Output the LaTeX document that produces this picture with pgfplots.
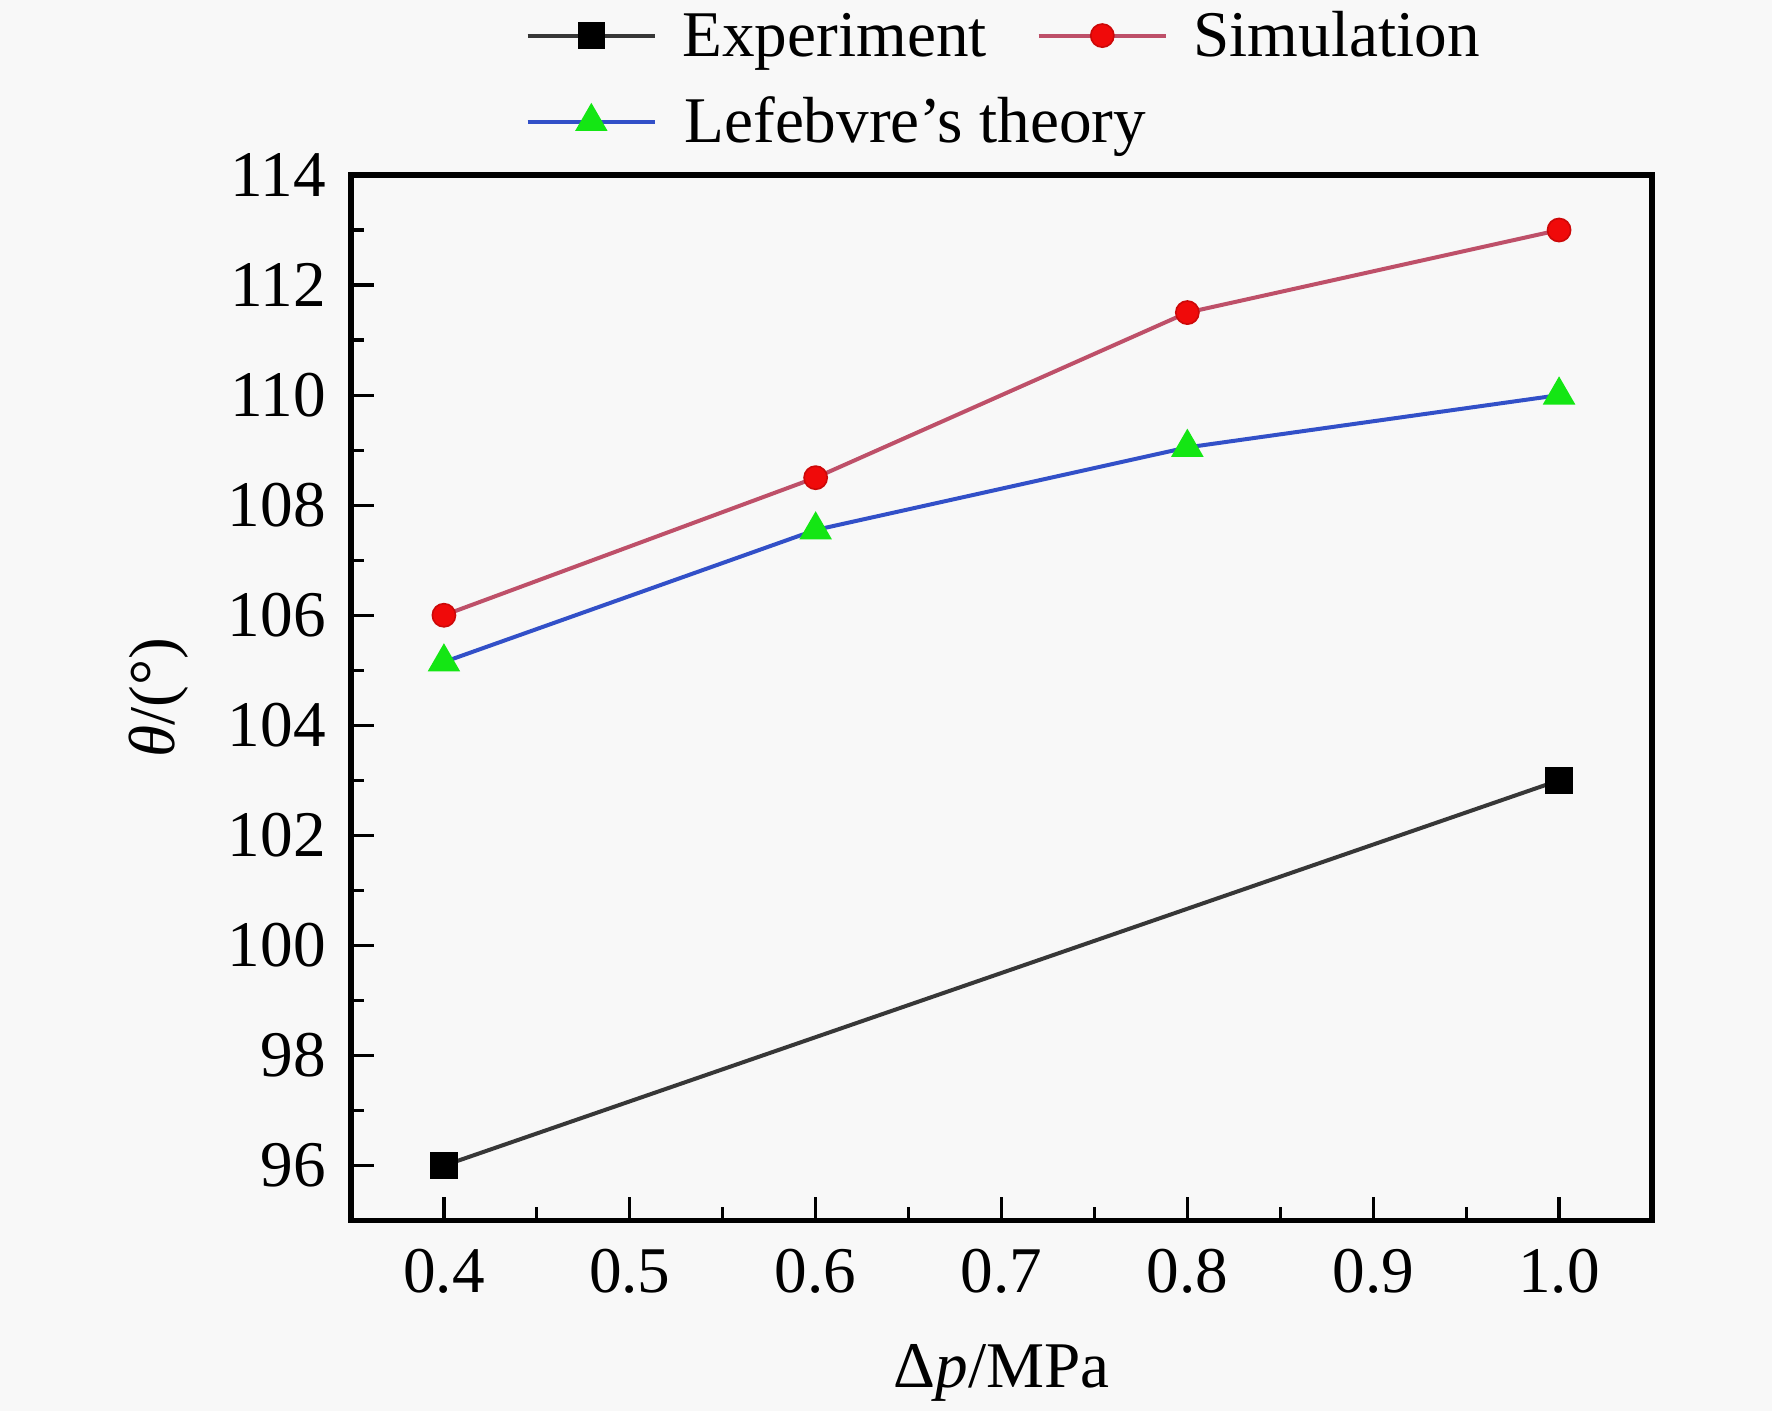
\documentclass[border=0pt]{standalone}
\usepackage{fontspec}
\setmainfont{Liberation Serif}
\usepackage{pgfplots}
\pgfplotsset{compat=1.18}
\definecolor{bgc}{RGB}{248,248,248}
\definecolor{expline}{RGB}{55,55,55}
\definecolor{simline}{RGB}{190,80,105}
\definecolor{simmark}{RGB}{240,10,10}
\definecolor{lefline}{RGB}{50,80,200}
\definecolor{lefmark}{RGB}{20,230,20}
\begin{document}
\fontsize{16.3}{19.5}\selectfont
\begin{tikzpicture}
\path[use as bounding box, fill=bgc] (-87.75pt,-47.6pt) rectangle (355.25pt,305.15pt);
\begin{axis}[
  at={(0,0)}, anchor=south west,
  scale only axis, width=325.25pt, height=261.4pt,
  xmin=0.35, xmax=1.05, ymin=95, ymax=114,
  xtick={0.4,0.5,0.6,0.7,0.8,0.9,1.0},
  xticklabels={0.4,0.5,0.6,0.7,0.8,0.9,1.0},
  minor x tick num=1,
  ytick={96,98,100,102,104,106,108,110,112,114},
  minor y tick num=1,
  tick align=inside, xtick pos=left, ytick pos=left,
  major tick length=5.8pt, minor tick length=3.3pt,
  tick style={black, line width=0.8pt},
  axis line style={line width=1.3pt},
  /pgf/number format/assume math mode=true,
  xticklabel style={anchor=base, yshift=-18pt},
  yticklabel style={xshift=-0.7pt},
  xlabel={Δ\textit{p}/MPa}, ylabel={\textit{θ}/(°)},
  xlabel style={at={(axis description cs:0.5,-0.1599)}, anchor=base},
  ylabel style={at={(axis description cs:-0.1353,0.5)}, anchor=base},
  legend columns=2,
  legend cell align=left,
  legend style={draw=none, fill=none, at={(axis description cs:0.1337,1)}, anchor=south west, yshift=7.2pt, inner sep=0pt, row sep=9.6pt, column sep=6.5pt, nodes={inner sep=0pt, text height=0.68em, text depth=0.05em}, /tikz/every even column/.append style={column sep=12.5pt}},
  legend image code/.code={\draw[mark repeat=2,mark phase=2,#1] plot coordinates {(0pt,0pt)(15.9pt,0pt)(31.7pt,0pt)};},
]
\addplot[color=expline, line width=1pt, mark=square*, mark size=2.9pt, mark options={solid, fill=black, draw=black}] coordinates {(0.4,96) (1.0,103)};
\addlegendentry{Experiment}
\addplot[color=simline, line width=1pt, mark=*, mark size=2.9pt, mark options={solid, fill=simmark, draw=simmark!85!black, line width=0.4pt}] coordinates {(0.4,106) (0.6,108.5) (0.8,111.5) (1.0,113)};
\addlegendentry{Simulation}
\addplot[color=lefline, line width=1pt, mark=triangle*, mark size=3.7pt, mark options={solid, fill=lefmark, draw=lefmark}] coordinates {(0.4,105.15) (0.6,107.55) (0.8,109.05) (1.0,110)};
\addlegendentry{\makebox[0pt][l]{Lefebvre’s theory}}
\end{axis}
\end{tikzpicture}
\end{document}
